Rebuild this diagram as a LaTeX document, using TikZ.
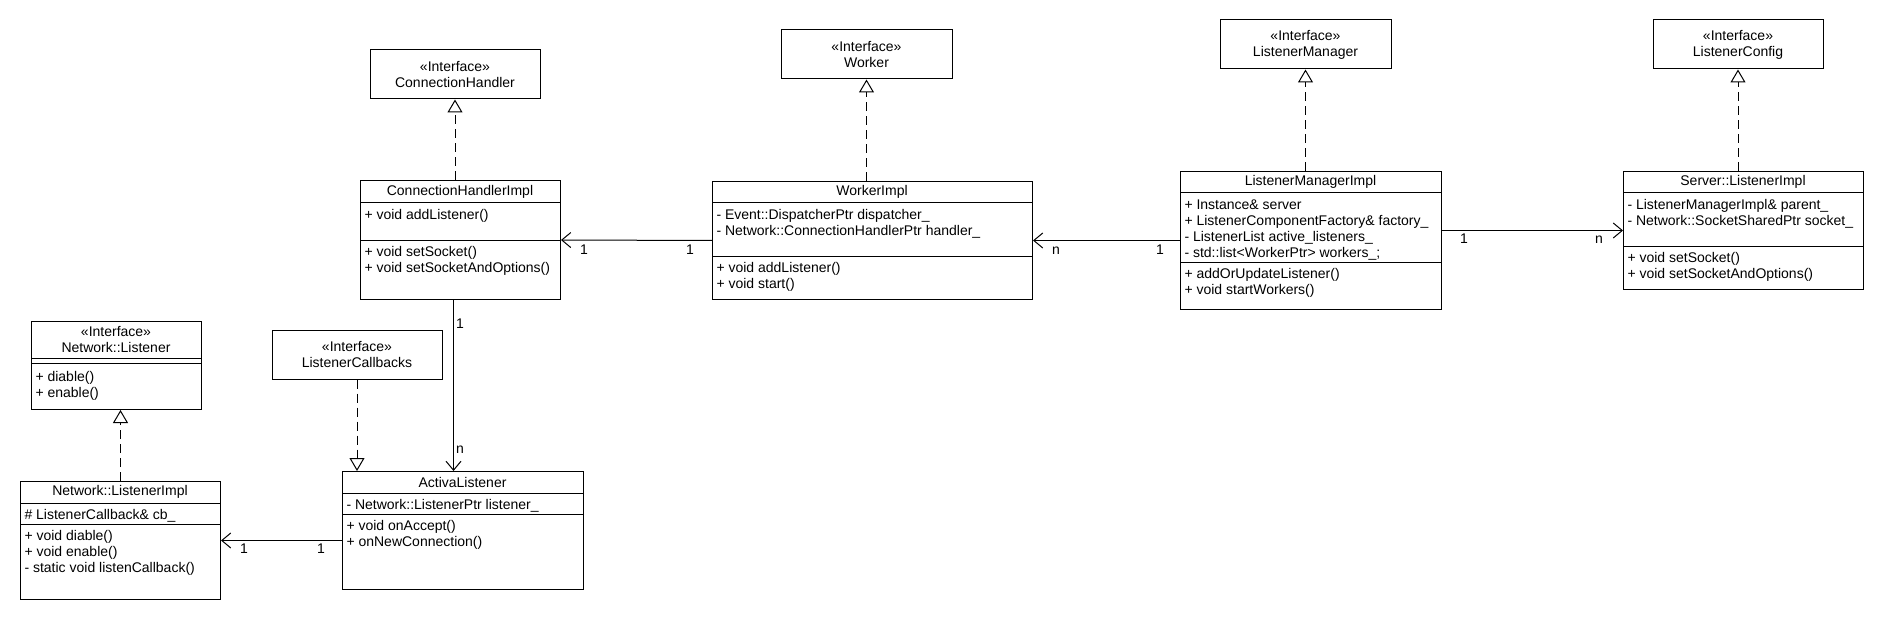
\documentclass[tikz,border=0pt]{standalone}
\usepackage{fontspec}
\setmainfont{Liberation Sans}
\usetikzlibrary{positioning, calc, arrows.meta}

\tikzset{
  iface/.style={draw, align=center, inner sep=0pt},
  cls/.style={draw, anchor=north west, inner sep=0pt},
  members/.style={anchor=north west, align=left, inner sep=0pt},
  realize/.style={dash pattern=on 9pt off 5pt, -{Triangle[open, length=13pt, width=15pt]}},
  assoc/.style={-{Straight Barb[length=9pt, width=15pt]}},
  mult/.style={inner sep=0pt},
}

\begin{document}
\begin{tikzpicture}[x=1pt, y=-1pt, line width=1pt, font=\fontsize{14}{16}\selectfont]
	\useasboundingbox (0,0) rectangle (1880,620);

	% interfaces
	\node[iface, minimum width=170, minimum height=49] (chi)  at (455,74.5)   {«Interface»\\ConnectionHandler};
	\node[iface, minimum width=171, minimum height=49] (wi)   at (866.5,54.5) {«Interface»\\Worker};
	\node[iface, minimum width=171, minimum height=49] (lmi)  at (1305.5,44.5) {«Interface»\\ListenerManager};
	\node[iface, minimum width=170, minimum height=49] (lci)  at (1738,44.5)  {«Interface»\\ListenerConfig};
	\node[iface, minimum width=170, minimum height=48] (lcbi) at (357,355)    {«Interface»\\ListenerCallbacks};

	\node[cls, minimum width=170, minimum height=88] (nli) at (31,321) {};
	\node[align=center] (nliname) at (116,340) {«Interface»\\Network::Listener};
	\draw (31,359) -- (201,359);
	\draw (31,364) -- (201,364);
	\node[members] (nlimeth) at (35,371) {+ diable()\\+ enable()};

	% ConnectionHandlerImpl
	\node[cls, minimum width=200, minimum height=119] (chimpl) at (360,180) {};
	\node (chimplname) at (460,191.5) {ConnectionHandlerImpl};
	\draw (360,203) -- (560,203);
	\draw (360,241) -- (560,241);
	\node[members] (chimplattr) at (364,209) {+ void addListener()};
	\node[members] (chimplmeth) at (364,246) {+ void setSocket()\\+ void setSocketAndOptions()};

	% WorkerImpl
	\node[cls, minimum width=320, minimum height=118] (wimpl) at (712,181) {};
	\node (wimplname) at (872,192) {WorkerImpl};
	\draw (712,203) -- (1032,203);
	\draw (712,257) -- (1032,257);
	\node[members] (wimplattr) at (716,209) {- Event::DispatcherPtr dispatcher\_\\- Network::ConnectionHandlerPtr handler\_};
	\node[members] (wimplmeth) at (716,262) {+ void addListener()\\+ void start()};

	% ListenerManagerImpl
	\node[cls, minimum width=261, minimum height=138] (lmimpl) at (1180,171) {};
	\node (lmimplname) at (1310.5,182) {ListenerManagerImpl};
	\draw (1180,193) -- (1441,193);
	\draw (1180,263) -- (1441,263);
	\node[members] (lmimplattr) at (1184,199) {+ Instance\& server\\+ ListenerComponentFactory\& factory\_\\- ListenerList active\_listeners\_\\- std::list<WorkerPtr> workers\_;};
	\node[members] (lmimplmeth) at (1184,268) {+ addOrUpdateListener()\\+ void startWorkers()};

	% Server::ListenerImpl
	\node[cls, minimum width=240, minimum height=118] (slimpl) at (1623,171) {};
	\node (slimplname) at (1743,182) {Server::ListenerImpl};
	\draw (1623,193) -- (1863,193);
	\draw (1623,247) -- (1863,247);
	\node[members] (slimplattr) at (1627,199) {- ListenerManagerImpl\& parent\_\\- Network::SocketSharedPtr socket\_};
	\node[members] (slimplmeth) at (1627,252) {+ void setSocket()\\+ void setSocketAndOptions()};

	% Network::ListenerImpl
	\node[cls, minimum width=200, minimum height=118] (nlimpl) at (20,481) {};
	\node (nlimplname) at (120,492) {Network::ListenerImpl};
	\draw (20,503) -- (220,503);
	\draw (20,524) -- (220,524);
	\node[members] (nlimplattr) at (24,509) {\# ListenerCallback\& cb\_};
	\node[members] (nlimplmeth) at (24,530) {+ void diable()\\+ void enable()\\- static void listenCallback()};

	% ActivaListener
	\node[cls, minimum width=241, minimum height=118] (activa) at (342,471) {};
	\node (activaname) at (462.5,482) {ActivaListener};
	\draw (342,493) -- (583,493);
	\draw (342,514) -- (583,514);
	\node[members] (activaattr) at (346,499) {- Network::ListenerPtr listener\_};
	\node[members] (activameth) at (346,520) {+ void onAccept()\\+ onNewConnection()};

	% realizations
	\draw[realize] (chimpl.north -| chi.south) -- (chi.south);
	\draw[realize] (wimpl.north -| wi.south) -- (wi.south);
	\draw[realize] (lmimpl.north -| lmi.south) -- (lmi.south);
	\draw[realize] (slimpl.north -| lci.south) -- (lci.south);
	\draw[realize] (nlimpl.north) -- (nlimpl.north |- nli.south);
	\draw[realize] (lcbi.south) -- (lcbi.south |- activa.north);

	% associations
	\draw[assoc] (wimpl.west) -- (chimpl.east);
	\draw[assoc] (lmimpl.west) -- (wimpl.east);
	\draw[assoc] (lmimpl.east |- slimpl.west) -- (slimpl.west);
	\draw[assoc] ([xshift=-7pt]chimpl.south) -- ([xshift=-7pt]chimpl.south |- activa.north);
	\draw[assoc] (activa.west |- nlimpl.east) -- (nlimpl.east);

	% multiplicities
	\node[mult] (m1)  at (584,250)  {1};
	\node[mult] (m2)  at (690,250)  {1};
	\node[mult] (m3)  at (1056,251) {n};
	\node[mult] (m4)  at (1160,250) {1};
	\node[mult] (m5)  at (1464,239) {1};
	\node[mult] (m6)  at (1599,240) {n};
	\node[mult] (m7)  at (460,324)  {1};
	\node[mult] (m8)  at (460,450)  {n};
	\node[mult] (m9)  at (244,549)  {1};
	\node[mult] (m10) at (321,549)  {1};
\end{tikzpicture}
\end{document}
